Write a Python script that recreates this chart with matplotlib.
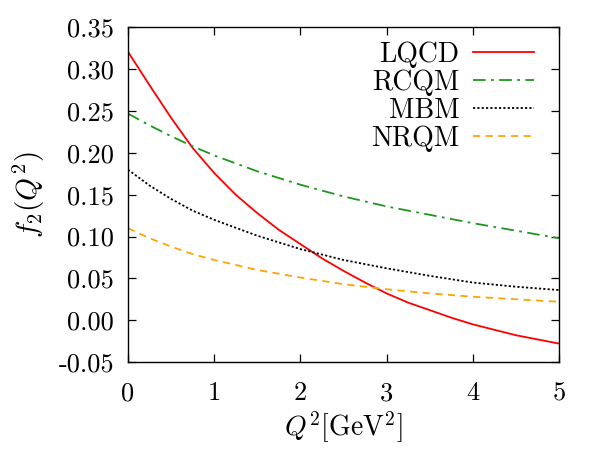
import numpy as np
import matplotlib.pyplot as plt

plt.rcParams['font.family'] = 'cmr10'
plt.rcParams['mathtext.fontset'] = 'cm'
plt.rcParams['axes.unicode_minus'] = False

# values
q2_lqcd = [0.0, 0.25, 0.5, 0.75, 1.0, 1.25, 1.5, 1.75, 2.0, 2.25, 2.5, 2.75,
           3.0, 3.25, 3.5, 3.75, 4.0, 4.5, 5.0]
lqcd = [0.321, 0.281, 0.242, 0.206, 0.176, 0.150, 0.128, 0.108, 0.091, 0.074,
        0.059, 0.045, 0.032, 0.021, 0.012, 0.003, -0.005, -0.018, -0.028]

q2 = [0.0, 0.25, 0.5, 0.75, 1.0, 1.5, 2.0, 2.5, 3.0, 3.5, 4.0, 4.5, 5.0]
rcqm = [0.247, 0.233, 0.220, 0.208, 0.197, 0.178, 0.162, 0.148, 0.136, 0.126, 0.116, 0.107, 0.098]
mbm = [0.180, 0.161, 0.145, 0.131, 0.120, 0.101, 0.085, 0.072, 0.062, 0.053, 0.045, 0.040, 0.036]
nrqm = [0.110, 0.098, 0.088, 0.079, 0.072, 0.060, 0.051, 0.043, 0.037, 0.032, 0.028, 0.025, 0.022]

yticks = [-0.05, 0.0, 0.05, 0.10, 0.15, 0.20, 0.25, 0.30, 0.35]
ytick_labels = ['-0.05', '0.00', '0.05', '0.10', '0.15', '0.20', '0.25', '0.30', '0.35']
xticks = [0, 1, 2, 3, 4, 5]

fig = plt.figure(figsize=(6, 4.5), dpi=100)
ax = fig.add_axes([0.2133, 0.1956, 0.7184, 0.7433])

ax.plot(q2_lqcd, lqcd, color='#ff0000', lw=1.3, label='LQCD')
ax.plot(q2, rcqm, color='#1e961e', lw=1.3, dashes=(7, 3, 1.5, 3), label='RCQM')
ax.plot(q2, mbm, color='black', lw=1.3, dashes=(1.2, 1.2), label='MBM')
ax.plot(q2, nrqm, color='#ffa500', lw=1.3, dashes=(4, 3), label='NRQM')

ax.set_xlim(0, 5)
ax.set_ylim(-0.05, 0.35)
ax.set_xticks(xticks)
ax.set_xticklabels([str(t) for t in xticks])
ax.set_yticks(yticks)
ax.set_yticklabels(ytick_labels)
ax.tick_params(direction='in', length=5.5, width=0.9, top=True, right=True, labelsize=19)
ax.tick_params(axis='x', pad=14)
ax.tick_params(axis='y', pad=10)
for s in ax.spines.values():
    s.set_linewidth(1.0)

ax.set_xlabel(r'$Q^2[\mathrm{GeV}^2]$', fontsize=20, labelpad=3)
ax.set_ylabel(r'$f_2(Q^2)$', fontsize=21, labelpad=8)

ax.legend(loc='upper right', bbox_to_anchor=(0.975, 1.0), frameon=False, markerfirst=False,
          fontsize=20, handlelength=2.2, handletextpad=0.5, labelspacing=0.06,
          borderaxespad=0.1)

fig.savefig('out.png', dpi=100)
